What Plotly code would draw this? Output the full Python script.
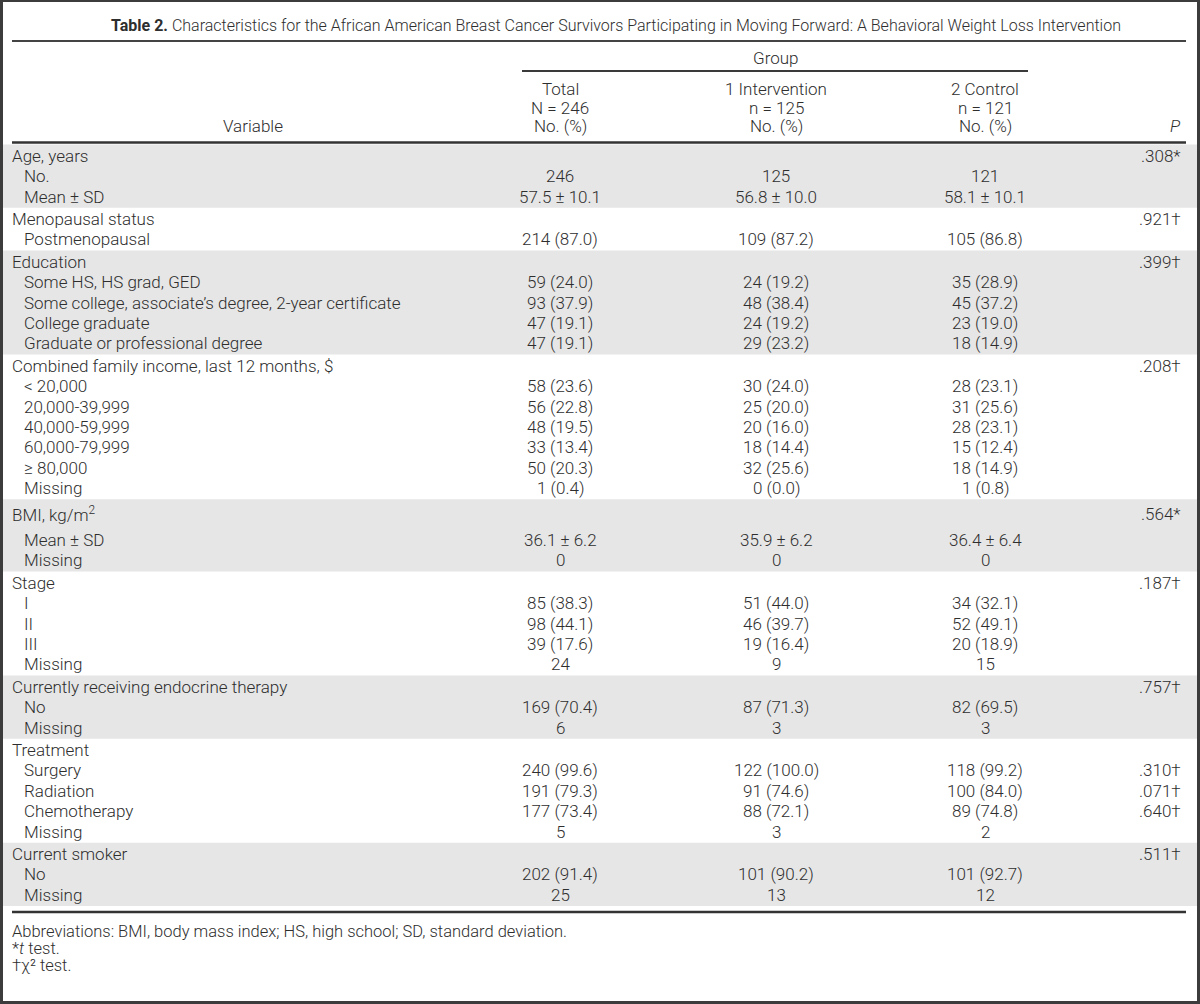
import plotly.graph_objects as go

# ---------------- data ----------------
title_bold = "Table 2."
title_rest = ("Characteristics for the African American Breast Cancer Survivors "
              "Participating in Moving Forward: A Behavioral Weight Loss Intervention")

col_heads = [["Total", "N = 246", "No. (%)"],
             ["1 Intervention", "n = 125", "No. (%)"],
             ["2 Control", "n = 121", "No. (%)"]]

group_sizes = [3, 2, 5, 7, 3, 5, 3, 5, 3]

row_labels = [
    "Age, years", "No.", "Mean ± SD",
    "Menopausal status", "Postmenopausal",
    "Education", "Some HS, HS grad, GED",
    "Some college, associate’s degree, 2-year certificate",
    "College graduate", "Graduate or professional degree",
    "Combined family income, last 12 months, $", "< 20,000", "20,000-39,999",
    "40,000-59,999", "60,000-79,999", "≥ 80,000", "Missing",
    "BMI, kg/m<sup>2</sup>", "Mean ± SD", "Missing",
    "Stage", "I", "II", "III", "Missing",
    "Currently receiving endocrine therapy", "No", "Missing",
    "Treatment", "Surgery", "Radiation", "Chemotherapy", "Missing",
    "Current smoker", "No", "Missing",
]
row_level = [0, 1, 1, 0, 1, 0, 1, 1, 1, 1, 0, 1, 1, 1, 1, 1, 1,
             0, 1, 1, 0, 1, 1, 1, 1, 0, 1, 1, 0, 1, 1, 1, 1, 0, 1, 1]

total_vals = [
    "", "246", "57.5 ± 10.1",
    "", "214 (87.0)",
    "", "59 (24.0)", "93 (37.9)", "47 (19.1)", "47 (19.1)",
    "", "58 (23.6)", "56 (22.8)", "48 (19.5)", "33 (13.4)", "50 (20.3)", "1 (0.4)",
    "", "36.1 ± 6.2", "0",
    "", "85 (38.3)", "98 (44.1)", "39 (17.6)", "24",
    "", "169 (70.4)", "6",
    "", "240 (99.6)", "191 (79.3)", "177 (73.4)", "5",
    "", "202 (91.4)", "25",
]
intervention_vals = [
    "", "125", "56.8 ± 10.0",
    "", "109 (87.2)",
    "", "24 (19.2)", "48 (38.4)", "24 (19.2)", "29 (23.2)",
    "", "30 (24.0)", "25 (20.0)", "20 (16.0)", "18 (14.4)", "32 (25.6)", "0 (0.0)",
    "", "35.9 ± 6.2", "0",
    "", "51 (44.0)", "46 (39.7)", "19 (16.4)", "9",
    "", "87 (71.3)", "3",
    "", "122 (100.0)", "91 (74.6)", "88 (72.1)", "3",
    "", "101 (90.2)", "13",
]
control_vals = [
    "", "121", "58.1 ± 10.1",
    "", "105 (86.8)",
    "", "35 (28.9)", "45 (37.2)", "23 (19.0)", "18 (14.9)",
    "", "28 (23.1)", "31 (25.6)", "28 (23.1)", "15 (12.4)", "18 (14.9)", "1 (0.8)",
    "", "36.4 ± 6.4", "0",
    "", "34 (32.1)", "52 (49.1)", "20 (18.9)", "15",
    "", "82 (69.5)", "3",
    "", "118 (99.2)", "100 (84.0)", "89 (74.8)", "2",
    "", "101 (92.7)", "12",
]
p_values = [
    ".308*", "", "",
    ".921†", "",
    ".399†", "", "", "", "",
    ".208†", "", "", "", "", "", "",
    ".564*", "", "",
    ".187†", "", "", "", "",
    ".757†", "", "",
    "", ".310†", ".071†", ".640†", "",
    ".511†", "", "",
]

footnotes = ["Abbreviations: BMI, body mass index; HS, high school; SD, standard deviation.",
             "*<i>t</i> test.",
             "†χ² test."]

# ---------------- layout ----------------
W, H = 1200, 1004
FONT = "Roboto, Liberation Sans, Arial, sans-serif"
WEIGHT = 300
TXT = "#2e2e2e"
BAND = "#e6e6e6"
FRAME = "#3c3c3c"
FS = 17

col_x = [560, 776, 985]
p_x = 1183
lab_x = [10, 22]

row_h = 20.4
pad = 1.0
bmi_extra = 9.0
table_top = 144.5

shapes = []
ann = []

def text(x, y, s, anchor="center", size=FS, color=TXT):
    ann.append(dict(x=x, y=y, xref="x", yref="y", text=s, showarrow=False,
                    xanchor=anchor, yanchor="middle",
                    font=dict(family=FONT, size=size, color=color, weight=WEIGHT)))

# title
text(616, 25, "<b>" + title_bold + "</b> " + title_rest, size=16)
shapes.append(dict(type="line", x0=12, x1=1186, y0=41, y1=41,
                   line=dict(color="#444444", width=2)))

# header
text(col_x[1], 58, "Group")
shapes.append(dict(type="line", x0=522, x1=1028, y0=71, y1=71,
                   line=dict(color="#3a3a3a", width=2)))
for cx, lines in zip(col_x, col_heads):
    for k, s in enumerate(lines):
        text(cx, 89 + k * 18.5, s)
text(253, 126, "Variable")
text(p_x, 126, "<i>P</i>", anchor="right")

# body
y = table_top
r = 0
for gi, n in enumerate(group_sizes):
    g_top = y
    y += pad
    for k in range(n):
        is_bmi = row_labels[r].startswith("BMI")
        h = row_h + (bmi_extra if is_bmi else 0)
        yc = y + row_h / 2 + (bmi_extra * 0.35 if is_bmi else 0)
        text(lab_x[row_level[r]], yc, row_labels[r], anchor="left")
        for cx, vals in zip(col_x, [total_vals, intervention_vals, control_vals]):
            if vals[r]:
                text(cx, yc, vals[r])
        if p_values[r]:
            text(p_x, yc, p_values[r], anchor="right")
        y += h
        r += 1
    y += pad
    if gi % 2 == 0:
        shapes.append(dict(type="rect", x0=0, x1=W, y0=g_top, y1=y,
                           fillcolor=BAND, line=dict(width=0), layer="below"))

shapes.append(dict(type="line", x0=12, x1=1186, y0=table_top - 2, y1=table_top - 2,
                   line=dict(color="#333333", width=2.5)))
rule_y = y + 6
shapes.append(dict(type="line", x0=12, x1=1186, y0=rule_y, y1=rule_y,
                   line=dict(color="#333333", width=2.5)))

fy = rule_y + 20
for k, s in enumerate(footnotes):
    text(10, fy + k * 17, s, anchor="left", size=16.5)

fig = go.Figure()
fig.update_layout(
    width=W, height=H, margin=dict(l=3, r=3, t=2, b=3, pad=0),
    paper_bgcolor=FRAME, plot_bgcolor="white",
    xaxis=dict(range=[3, W - 3], visible=False, fixedrange=True),
    yaxis=dict(range=[H - 3, 2], visible=False, fixedrange=True),
    shapes=shapes, annotations=ann, showlegend=False,
)
fig.write_html("out.html", post_script="document.body.style.margin='0';",
               config={"displayModeBar": False})
